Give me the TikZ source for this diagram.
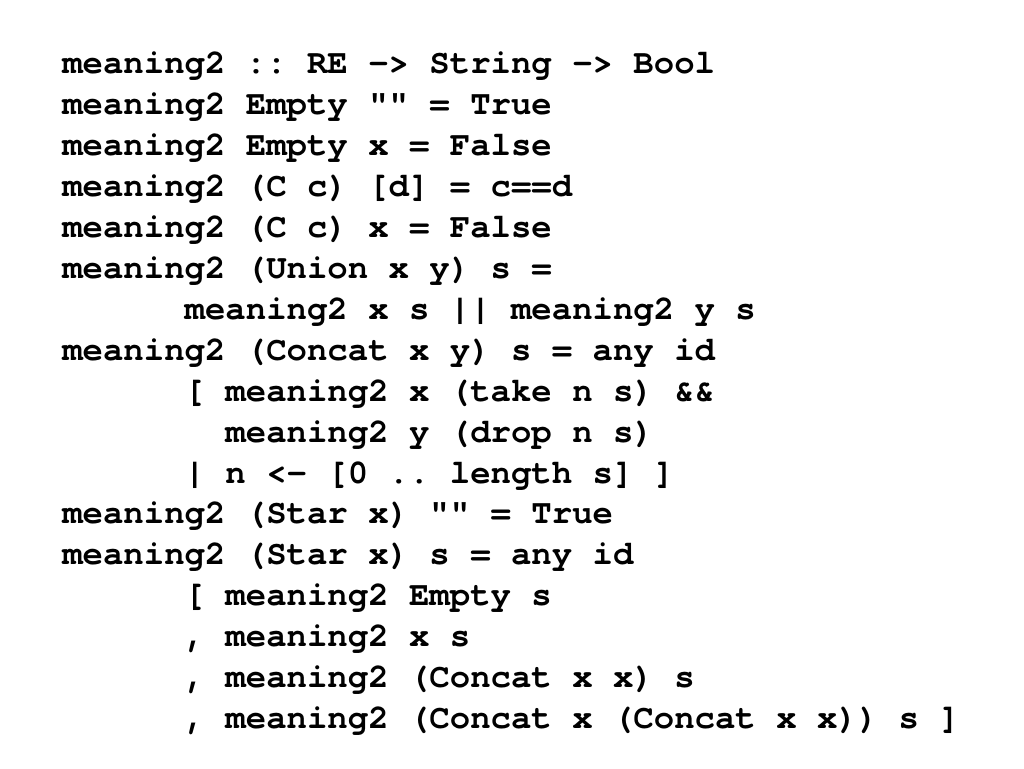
\documentclass[tikz,border=0pt]{standalone}
\usepackage{fontspec}
\setmonofont{texgyrecursor}[Extension=.otf,UprightFont=*-regular,BoldFont=*-bold]
\frenchspacing
\tikzset{codeline/.style={anchor=base west, inner sep=0pt, font=\ttfamily\bfseries\fontsize{25.5pt}{30pt}\selectfont}}
\begin{document}
\begin{tikzpicture}[x=0.75pt,y=-0.75pt]
\useasboundingbox[fill=white] (0,0) rectangle (1024,768);
\def\xa{62}
\def\xb{184.4}
\def\xc{225.2}
\node[codeline] (l1)  at (\xa,73)  {meaning2 :: RE -> String -> Bool};
\node[codeline] (l2)  at (\xa,114) {meaning2 Empty "" = True};
\node[codeline] (l3)  at (\xa,155) {meaning2 Empty x = False};
\node[codeline] (l4)  at (\xa,196) {meaning2 (C c) [d] = c==d};
\node[codeline] (l5)  at (\xa,237) {meaning2 (C c) x = False};
\node[codeline] (l6)  at (\xa,278) {meaning2 (Union x y) s =};
\node[codeline] (l7)  at (\xb,319) {meaning2 x s || meaning2 y s};
\node[codeline] (l8)  at (\xa,360) {meaning2 (Concat x y) s = any id};
\node[codeline] (l9)  at (\xb,401) {[ meaning2 x (take n s) \&\&};
\node[codeline] (l10) at (\xc,442) {meaning2 y (drop n s)};
\node[codeline] (l11) at (\xb,483) {| n <- [0 .. length s] ]};
\node[codeline] (l12) at (\xa,523) {meaning2 (Star x) "" = True};
\node[codeline] (l13) at (\xa,564) {meaning2 (Star x) s = any id};
\node[codeline] (l14) at (\xb,605) {[ meaning2 Empty s};
\node[codeline] (l15) at (\xb,646) {, meaning2 x s};
\node[codeline] (l16) at (\xb,687) {, meaning2 (Concat x x) s};
\node[codeline] (l17) at (\xb,728) {, meaning2 (Concat x (Concat x x)) s ]};
\end{tikzpicture}
\end{document}
